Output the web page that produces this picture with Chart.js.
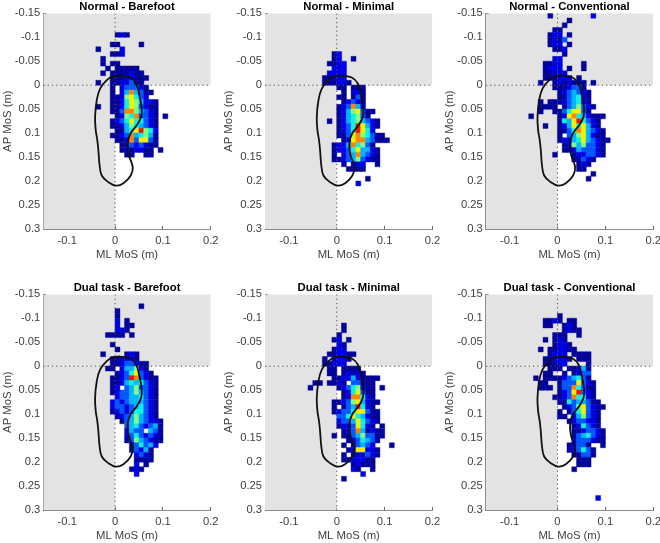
<!DOCTYPE html>
<html>
<head>
<meta charset="utf-8">
<style>
  body { margin: 0; background: #fff; }
  canvas { position: absolute; }
</style>
<script src="https://cdn.jsdelivr.net/npm/chart.js@4"></script>
</head>
<body>
<script>
// Axis ticks
const mlTicks = [-0.1, 0, 0.1, 0.2];
const apTicks = [-0.15, -0.1, -0.05, 0, 0.05, 0.1, 0.15, 0.2, 0.25, 0.3];

// Jet colours for the density levels 1-9
const levelColors = ["", "#03039a", "#0000e6", "#0058ff", "#00b4ff", "#10f0e0", "#80ff80", "#f4f000", "#ff8400", "#f01400"];

// Foot outline (ML, AP)
const footMl = [0.0104, 0.0313, 0.0439, 0.0508, 0.0557, 0.0543, 0.0453, 0.0327, 0.0265, 0.0279, 0.0369, 0.0327, 0.0174, 0.0021, -0.0139, -0.0279, -0.0327, -0.0341, -0.0355, -0.0376, -0.0404, -0.0418, -0.0383, -0.0313, -0.0174, -0.0035, 0.0104];
const footAp = [-0.0202, -0.016, -0.0035, 0.0209, 0.0488, 0.0663, 0.0837, 0.0998, 0.1186, 0.143, 0.171, 0.1884, 0.2045, 0.2094, 0.2024, 0.1884, 0.164, 0.1465, 0.129, 0.1117, 0.0942, 0.0663, 0.0314, 0.007, -0.0105, -0.0188, -0.0202];

// Density levels: one string per 0.01 AP bin starting at -0.15,
// one character per 0.01 ML bin starting at -0.06
const normalBarefoot = [
  "", "", "", "",
  "......121",
  "",
  ".....11....1",
  "..1....2",
  ".....112",
  "...1",
  "...1.11",
  "....1.11111",
  "...1.1111211",
  ".....11122111",
  "..1..1122311",
  ".....1.233321",
  ".....1.2484311",
  ".....11267532",
  ".....1125764221",
  "..1..1125763211",
  ".....1138864321",
  "......126583321.1",
  ".....1235755321",
  ".....1124654321",
  "......114579652",
  ".....1123845641",
  "......112837731",
  ".......11323211",
  ".......1212211.1",
  "........11..11",
];
const normalMinimal = [
  "", "", "", "", "", "", "", "",
  ".....12",
  ".....12..1",
  "....1122",
  ".....222",
  "....2222",
  "...11222",
  "...111221",
  "......11.111",
  ".......1.221",
  "......11.131",
  ".......12321",
  "......123842",
  "......12467311",
  "......1245631",
  "....1.124564321",
  "......123597421",
  "......12359752",
  "......1137865311",
  ".......1278843111",
  ".....122485631",
  ".....1223574421",
  ".....1.23484321",
  ".....1123463211",
  ".......1.222..1",
  "........1111",
  "",
  "............1",
  "..........2",
];
const normalConventional = [
  "....1........2",
  "........1",
  ".......1",
  ".....11",
  "....122.1",
  "....1213",
  "....122.1",
  ".....112",
  ".......1",
  ".....22",
  "...1122....1",
  "...1222.1..1",
  "...11222",
  "...111222.1",
  "..1..1212111.1",
  ".....1112331",
  "......1234321",
  "......1134521",
  "..1.111234521",
  "..1111.1346321",
  "..1..11357731",
  "1.....1278542111",
  "......154795321",
  "...1..124757421",
  "......1135874321",
  "......1.34674211",
  "......12245743211",
  ".......126463321",
  ".......112433321",
  ".....1...1223321",
  ".........11321",
  "..........121",
  "..........11",
  ".............1",
  "............1",
];
const dualBarefoot = [
  "", "",
  "...........1",
  "......1",
  "......1",
  "......2.1",
  "......2.11",
  "......221",
  "....1111.1",
  "",
  ".....1",
  "......1",
  "...1....121",
  ".....112221",
  ".....11233211",
  "....11.244621",
  "......12357321",
  ".....1123983211",
  ".....1124545321",
  ".....12.3463321",
  ".....1233464321",
  "......233445321",
  ".....2323444321",
  ".....2332345321",
  ".....1232355321",
  "......123464321",
  ".......134643221",
  "........34532341",
  "........2433.431",
  "........23532321",
  "........13643211",
  ".........135342",
  ".........13241",
  "..........2321",
  "..........1111",
  "..........2.1",
  ".........121",
  "..........2",
];
const dualMinimal = [
  "", "", "", "", "", "",
  ".......1",
  ".......1",
  "......1",
  ".....12.1",
  "......21",
  ".....122",
  "....112211",
  "...1.1221",
  "...11222",
  "....11.1111",
  "....11.12121",
  ".....1122421111",
  ".11.1121.33111",
  "1.....12356211.1",
  ".......1257311",
  ".......1288521",
  ".....1123674211",
  ".....1.1349521",
  ".....1233577311",
  "......335754211",
  "......233475321",
  "......12237521.1",
  ".......123841211",
  ".....1.113463311",
  "........1235431",
  ".......1.13432...1",
  "........1277221",
  ".......1.122321",
  ".......1122211",
  ".........12111",
  ".........21..1",
  "...........2",
  ".......1",
];
const dualConventional = [
  "", "", "", "",
  "......1",
  "...1121.11",
  "...11..121",
  ".......1211",
  ".....111..1",
  "...1.121",
  ".....1221",
  "..1.112211",
  "....1222.1111",
  "...112221.111",
  "...11122....1",
  "....111.11241",
  "...11..1.1233",
  ".1.1111234531",
  "..11..13337321",
  "..111.13385311",
  "......12379321",
  ".....112385521",
  "......115344311",
  ".......123673211",
  "......1.1357321",
  "......11.246321",
  "........1233221",
  ".........125321",
  ".........1123321",
  ".........1345321",
  ".........2333211",
  "........12331..1",
  "........123531",
  ".........11331",
  "..........111",
  "..........111",
  ".........1",
  "", "", "", "", "",
  "..............2",
];

const panelTitles = ["Normal - Barefoot", "Normal - Minimal", "Normal - Conventional",
  "Dual task - Barefoot", "Dual task - Minimal", "Dual task - Conventional"];
const panelData = [normalBarefoot, normalMinimal, normalConventional,
  dualBarefoot, dualMinimal, dualConventional];

// Canvas placement
const canvasLeft = [0, 221, 442];
const yAxisWidth = [43.3, 44, 43.7];
const canvasTop = [0, 281];
const plotWidth = 167.5;
const plotHeight = 215.5;
const titleSpace = 13.3;
const xAxisHeight = 33;
const textColor = "#404040";

// Turn the level strings into chart points
function buildCells(rows) {
  const cells = [];
  rows.forEach((row, r) => {
    [...row].forEach((ch, c) => {
      if (ch === ".") return;
      cells.push({
        x: (c - 6 + 0.5) / 100,
        y: (r - 15 + 0.5) / 100,
        level: Number(ch),
      });
    });
  });
  return cells;
}

function tickText(v) {
  return String(Number(v.toFixed(2)));
}

function makePanel(index) {
  const col = index % 3;
  const row = Math.floor(index / 3);
  const canvas = document.createElement("canvas");
  const width = Math.ceil(yAxisWidth[col] + plotWidth + 9);
  const height = Math.ceil(titleSpace + plotHeight + xAxisHeight);
  canvas.width = width;
  canvas.height = height;
  canvas.style.left = canvasLeft[col] + "px";
  canvas.style.top = canvasTop[row] + "px";
  document.body.appendChild(canvas);

  const cells = buildCells(panelData[index]);

  new Chart(canvas.getContext("2d"), {
    type: "line",
    data: {
      datasets: [
        {
          label: "foot",
          data: footMl.map((x, i) => ({ x: x, y: footAp[i] })),
          borderColor: "#111111",
          borderWidth: 1.8,
          pointRadius: 0,
          tension: 0.4,
          order: 1,
        },
        {
          label: "ml zero",
          data: [{ x: 0, y: -0.15 }, { x: 0, y: 0.3 }],
          borderColor: "#555555",
          borderWidth: 1,
          borderDash: [1.3, 3],
          pointRadius: 0,
          order: 2,
        },
        {
          label: "ap zero",
          data: [{ x: -0.15, y: 0 }, { x: 0.2, y: 0 }],
          borderColor: "#555555",
          borderWidth: 1,
          borderDash: [1.3, 3],
          pointRadius: 0,
          order: 2,
        },
        {
          label: "density",
          data: cells,
          showLine: false,
          pointStyle: "rect",
          pointRadius: (ctx) => {
            const x = ctx.chart.scales.x;
            return (x.getPixelForValue(0.01) - x.getPixelForValue(0)) * Math.SQRT1_2 * 1.04;
          },
          pointBackgroundColor: cells.map((c) => levelColors[c.level]),
          pointBorderColor: cells.map((c) => levelColors[c.level]),
          pointBorderWidth: 0.4,
          order: 3,
        },
        {
          label: "forward region",
          data: [{ x: -0.15, y: 0 }, { x: 0.2, y: 0 }],
          borderWidth: 0,
          pointRadius: 0,
          fill: { value: -0.15 },
          backgroundColor: "#e3e3e3",
          order: 4,
        },
        {
          label: "medial region",
          data: [{ x: -0.15, y: 0 }, { x: 0, y: 0 }],
          borderWidth: 0,
          pointRadius: 0,
          fill: { value: 0.3 },
          backgroundColor: "#e3e3e3",
          order: 4,
        },
      ],
    },
    options: {
      responsive: false,
      animation: false,
      devicePixelRatio: 1,
      layout: {
        padding: { top: 0, left: 0, right: width - yAxisWidth[col] - plotWidth, bottom: 0 },
      },
      plugins: {
        legend: { display: false },
        tooltip: { enabled: false },
        title: {
          display: true,
          fullSize: false,
          text: panelTitles[index],
          color: "#000000",
          font: { family: "Liberation Sans", size: 11.3, weight: "bold", lineHeight: 1 },
          padding: { top: 1, bottom: titleSpace - 12.3 },
        },
      },
      scales: {
        x: {
          type: "linear",
          min: -0.15,
          max: 0.2,
          afterBuildTicks: (scale) => {
            scale.ticks = mlTicks.map((v) => ({ value: v }));
          },
          afterFit: (scale) => {
            scale.height = xAxisHeight;
            scale.paddingLeft = 0;
            scale.paddingRight = 0;
          },
          ticks: {
            autoSkip: false,
            maxRotation: 0,
            padding: 8,
            color: textColor,
            font: { family: "Liberation Sans", size: 11.2 },
            callback: tickText,
          },
          grid: { drawOnChartArea: false, tickLength: -3, tickColor: "#666666", tickWidth: 1 },
          border: { color: "#8a8a8a" },
          title: {
            display: true,
            text: "ML MoS (m)",
            color: textColor,
            font: { family: "Liberation Sans", size: 11.3 },
            padding: { top: 0, bottom: 0 },
          },
        },
        y: {
          type: "linear",
          reverse: true,
          min: -0.15,
          max: 0.3,
          afterBuildTicks: (scale) => {
            scale.ticks = apTicks.map((v) => ({ value: v }));
          },
          afterFit: (scale) => {
            scale.width = yAxisWidth[col];
            scale.paddingTop = 0;
            scale.paddingBottom = 0;
          },
          ticks: {
            autoSkip: false,
            padding: 6,
            color: textColor,
            font: { family: "Liberation Sans", size: 11.2 },
            callback: tickText,
          },
          grid: { drawOnChartArea: false, tickLength: -3, tickColor: "#666666", tickWidth: 1 },
          border: { color: "#8a8a8a" },
          title: {
            display: true,
            text: "AP MoS (m)",
            color: textColor,
            font: { family: "Liberation Sans", size: 11.3 },
            padding: { top: 0.7, bottom: 0 },
          },
        },
      },
    },
  });
}

panelTitles.forEach((t, i) => makePanel(i));
</script>
</body>
</html>
